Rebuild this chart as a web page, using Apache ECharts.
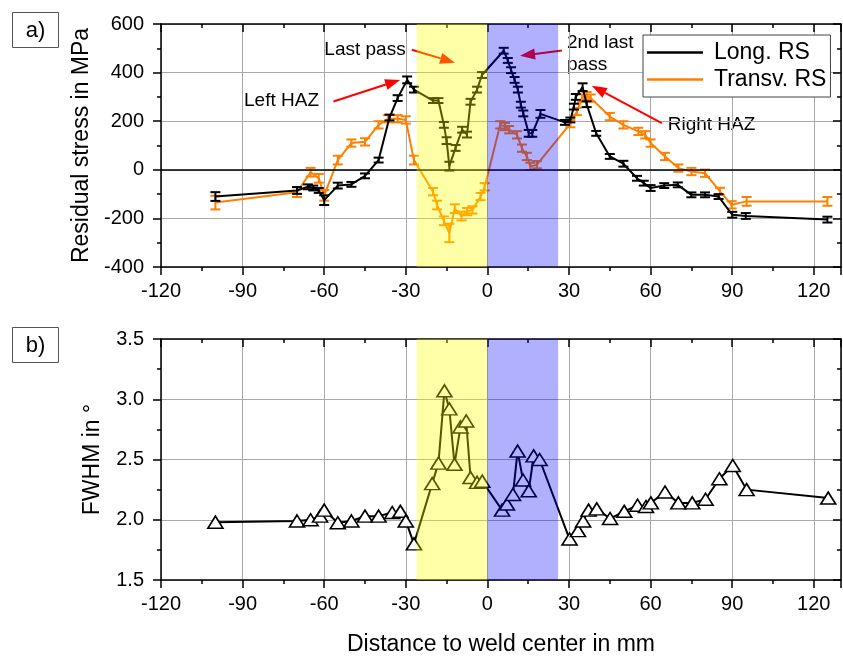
<!DOCTYPE html>
<html>
<head>
<meta charset="utf-8">
<script src="https://cdn.jsdelivr.net/npm/echarts@6/dist/echarts.min.js"></script>
<style>
html, body { margin: 0; padding: 0; background: #fff; }
#chart { width: 843px; height: 657px; }
</style>
</head>
<body>
<div id="chart"></div>
<script>
// Longitudinal residual stress: position (mm), stress (MPa), error half-width (MPa)
const longX = [-100, -70, -66, -64, -62, -60, -55, -50, -45, -40, -36, -33, -29.5, -27, -20, -18, -16, -15, -14, -11.7, -9.3, -7.5, -6.2, -3.8, -2,
  6, 7.5, 8.7, 10, 11.2, 12.3, 13.2, 15.2, 16.5, 19.5, 28.5, 30.5, 31.8, 32.5, 35, 36.5, 40, 45, 50, 55, 57.5, 60, 65, 70, 75, 80, 85, 90, 95, 125];
const longY = [-110, -85, -70, -75, -85, -125, -65, -60, -25, 40, 215, 295, 370, 330, 285, 285, 185, 120, 15, 90, 165, 145, 280, 330, 390,
  490, 450, 410, 370, 330, 268, 232, 150, 150, 230, 195, 205, 260, 300, 340, 270, 150, 55, 25, -35, -55, -75, -65, -62, -103, -103, -110, -185, -190, -205];
const longErr = [18, 14, 10, 10, 10, 20, 12, 10, 10, 10, 12, 12, 14, 12, 10, 10, 12, 14, 18, 12, 12, 12, 12, 12, 12,
  12, 10, 12, 12, 12, 12, 12, 14, 14, 16, 10, 10, 12, 12, 16, 12, 10, 10, 12, 10, 10, 12, 10, 10, 10, 10, 10, 12, 12, 12];

// Transverse residual stress
const transX = [-100, -70, -65, -62, -60, -55, -50, -45, -40, -36.5, -33, -30, -27, -20, -18.5, -16, -14, -12, -9.5, -7.5, -5.5, -2.5, -1,
  4.7, 6.5, 8, 10.9, 12.7, 14.5, 15.8, 18.2, 30.5, 32.9, 34.8, 36.5, 38, 45, 50, 55.5, 58, 60, 65.3, 70.2, 75, 80, 85.5, 89.8, 95.3, 125];
const transY = [-135, -92, -10, -35, -105, 40, 110, 115, 185, 210, 210, 205, 40, -90, -145, -210, -260, -160, -190, -172, -165, -110, -70,
  185, 178, 165, 144, 89, 55, 14, 21, 190, 240, 295, 305, 295, 219, 185, 158, 144, 110, 55, 7, -7, -14, -89, -144, -130, -130];
const transErr = [28, 20, 18, 18, 22, 18, 15, 15, 15, 15, 15, 15, 18, 15, 18, 18, 38, 18, 18, 15, 15, 15, 15,
  15, 15, 15, 15, 15, 15, 15, 15, 15, 15, 15, 15, 15, 15, 15, 15, 15, 15, 15, 15, 15, 15, 15, 15, 18, 18];

// Peak width (FWHM, degrees)
const fwhmX = [-100, -70, -65, -61.5, -60, -55, -50, -45, -40, -35, -32, -30, -27, -20.3, -18, -15.8, -14, -12.1, -9.9, -7.8, -6.2, -3.8, -1.9,
  5.4, 7.2, 9.4, 11.1, 13.1, 15.2, 17, 19.2, 30.2, 33.3, 35.2, 37.2, 40.2, 45.1, 50.3, 55.2, 58.3, 60.1, 65.3, 70.2, 75.3, 80.2, 85.3, 90.2, 95.3, 125.3];
const fwhmY = [1.98, 1.99, 2.00, 2.03, 2.08, 1.975, 1.99, 2.03, 2.03, 2.06, 2.07, 1.99, 1.80, 2.30, 2.47, 3.07, 2.92, 2.46, 2.77, 2.82, 2.35, 2.31, 2.32,
  2.08, 2.13, 2.21, 2.57, 2.33, 2.24, 2.53, 2.50, 1.84, 1.91, 1.99, 2.08, 2.09, 2.01, 2.07, 2.12, 2.11, 2.14, 2.23, 2.14, 2.14, 2.17, 2.34, 2.45, 2.25, 2.18];

// Weld passes: last pass (left) and 2nd last pass (right), in mm
const lastPassZone = [-26, 0];
const secondLastPassZone = [0, 26];

// Annotation arrows: [fromX, fromY, toX, toY] in data units of the stress plot
const arrowSegments = [
  [-56.6, 281, -32.1, 370],
  [-27.8, 494, -11.9, 441],
  [27.4, 491, 12.0, 469],
  [64.1, 192, 38.4, 346]
];

const FONT = 'Liberation Sans, Arial, sans-serif';
const toPairs = (xs, ys) => xs.map((x, i) => [x, ys[i]]);
const toTriples = (xs, ys, es) => xs.map((x, i) => [x, ys[i], es[i]]);

function errorBars(color) {
  return function (params, api) {
    const x = api.value(0), y = api.value(1), e = api.value(2);
    const a = api.coord([x, y + e]);
    const b = api.coord([x, y - e]);
    const w = 5;
    const st = { stroke: color, lineWidth: 2 };
    return {
      type: 'group',
      children: [
        { type: 'line', shape: { x1: a[0], y1: a[1], x2: b[0], y2: b[1] }, style: st },
        { type: 'line', shape: { x1: a[0] - w, y1: a[1], x2: a[0] + w, y2: a[1] }, style: st },
        { type: 'line', shape: { x1: b[0] - w, y1: b[1], x2: b[0] + w, y2: b[1] }, style: st }
      ]
    };
  };
}

function arrowItem(params, api) {
  const p1 = api.coord([api.value(0), api.value(1)]);
  const p2 = api.coord([api.value(2), api.value(3)]);
  const dx = p2[0] - p1[0], dy = p2[1] - p1[1];
  const len = Math.sqrt(dx * dx + dy * dy);
  const ux = dx / len, uy = dy / len;
  const hl = 15, hw = 5.5;
  const bx = p2[0] - ux * hl, by = p2[1] - uy * hl;
  return {
    type: 'group',
    children: [
      { type: 'line', shape: { x1: p1[0], y1: p1[1], x2: bx, y2: by }, style: { stroke: '#ff0000', lineWidth: 2 } },
      { type: 'polygon', shape: { points: [[p2[0], p2[1]], [bx - uy * hw, by + ux * hw], [bx + uy * hw, by - ux * hw]] }, style: { fill: '#ff0000' } }
    ]
  };
}

const axisCol = '#000';
const gridCol = '#a9a9a9';

function xAxisMain(gridIndex, extra) {
  return Object.assign({
    gridIndex, type: 'value', min: -120, max: 130, interval: 30, position: 'bottom',
    axisLine: { onZero: false, lineStyle: { color: axisCol, width: 1.5 } },
    axisTick: { length: 8, lineStyle: { color: axisCol, width: 1.5 } },
    minorTick: { show: true, splitNumber: 2, length: 4, lineStyle: { color: axisCol, width: 1.5 } },
    axisLabel: { margin: 14, fontSize: 20, color: '#000', fontFamily: FONT, showMaxLabel: false },
    splitLine: { show: true, lineStyle: { color: gridCol, width: 1 } }
  }, extra || {});
}
function xAxisMirror(gridIndex) {
  return {
    gridIndex, type: 'value', min: -120, max: 130, interval: 30, position: 'top',
    axisLine: { onZero: false, lineStyle: { color: axisCol, width: 1.5 } },
    axisTick: { inside: true, length: 8, lineStyle: { color: axisCol, width: 1.5 } },
    minorTick: { show: true, splitNumber: 2, length: 4, lineStyle: { color: axisCol, width: 1.5 } },
    axisLabel: { show: false }, splitLine: { show: false }
  };
}
function yAxisMain(gridIndex, min, max, interval, extra) {
  return Object.assign({
    gridIndex, type: 'value', min, max, interval, position: 'left',
    axisLine: { onZero: false, lineStyle: { color: axisCol, width: 1.5 } },
    axisTick: { length: 8, lineStyle: { color: axisCol, width: 1.5 } },
    minorTick: { show: true, splitNumber: 2, length: 4, lineStyle: { color: axisCol, width: 1.5 } },
    axisLabel: { margin: 17, fontSize: 20, color: '#000', fontFamily: FONT },
    splitLine: { show: true, lineStyle: { color: gridCol, width: 1 } },
    nameLocation: 'middle',
    nameTextStyle: { fontSize: 23, color: '#000', fontFamily: FONT }
  }, extra || {});
}
function yAxisMirror(gridIndex, min, max, interval) {
  return {
    gridIndex, type: 'value', min, max, interval, position: 'right',
    axisLine: { onZero: false, lineStyle: { color: axisCol, width: 1.5 } },
    axisTick: { inside: true, length: 8, lineStyle: { color: axisCol, width: 1.5 } },
    minorTick: { show: true, splitNumber: 2, length: 4, lineStyle: { color: axisCol, width: 1.5 } },
    axisLabel: { show: false }, splitLine: { show: false }
  };
}

const bandArea = {
  silent: true,
  z: 10,
  label: { show: false },
  data: [
    [{ xAxis: lastPassZone[0], itemStyle: { color: 'rgba(255,255,0,0.34)' } }, { xAxis: lastPassZone[1] }],
    [{ xAxis: secondLastPassZone[0], itemStyle: { color: 'rgba(0,0,255,0.31)' } }, { xAxis: secondLastPassZone[1] }]
  ]
};

const chart = echarts.init(document.getElementById('chart'), null, { renderer: 'canvas' });

chart.setOption({
  backgroundColor: '#fff',
  animation: false,
  textStyle: { fontFamily: FONT },
  grid: [
    { left: 161, width: 680, top: 24, height: 243 },
    { left: 161, width: 680, top: 339, height: 244 }
  ],
  xAxis: [
    xAxisMain(0),
    xAxisMirror(0),
    xAxisMain(1, {
      name: 'Distance to weld center in mm', nameLocation: 'middle', nameGap: 53,
      nameTextStyle: { fontSize: 23, color: '#000', fontFamily: FONT }
    }),
    xAxisMirror(1)
  ],
  yAxis: [
    yAxisMain(0, -400, 600, 200, { name: 'Residual stress in MPa', nameGap: 68 }),
    yAxisMirror(0, -400, 600, 200),
    yAxisMain(1, 1.5, 3.5, 0.5, {
      name: 'FWHM in °', nameGap: 57,
      axisLabel: { margin: 17, fontSize: 20, color: '#000', fontFamily: FONT, formatter: v => v.toFixed(1) }
    }),
    yAxisMirror(1, 1.5, 3.5, 0.5)
  ],
  legend: {
    left: 643, top: 35, orient: 'vertical',
    data: ['Long. RS', 'Transv. RS'],
    icon: 'rect',
    itemWidth: 56, itemHeight: 2.5, itemGap: 0,
    padding: [4, 4, 4, 4],
    borderColor: '#444', borderWidth: 1, borderRadius: 0,
    backgroundColor: '#fff',
    selectedMode: false,
    textStyle: { fontSize: 23, color: '#000', fontFamily: FONT, lineHeight: 27, padding: [0, 0, 0, 6] }
  },
  series: [
    {
      name: 'Long. RS', type: 'line', xAxisIndex: 0, yAxisIndex: 0,
      data: toPairs(longX, longY), symbol: 'none', z: 3,
      lineStyle: { color: '#000', width: 2 }, itemStyle: { color: '#000' },
      markLine: {
        silent: true, symbol: 'none', label: { show: false },
        lineStyle: { color: '#000', width: 1.5, type: 'solid' },
        data: [{ yAxis: 0 }]
      },
      markArea: bandArea
    },
    {
      name: 'Transv. RS', type: 'line', xAxisIndex: 0, yAxisIndex: 0,
      data: toPairs(transX, transY), symbol: 'none', z: 2,
      lineStyle: { color: '#ff8000', width: 2 }, itemStyle: { color: '#ff8000' }
    },
    {
      name: 'Long. RS error', type: 'custom', xAxisIndex: 0, yAxisIndex: 0, z: 3,
      data: toTriples(longX, longY, longErr), renderItem: errorBars('#000'),
      encode: { x: 0, y: 1 }, silent: true
    },
    {
      name: 'Transv. RS error', type: 'custom', xAxisIndex: 0, yAxisIndex: 0, z: 2,
      data: toTriples(transX, transY, transErr), renderItem: errorBars('#ff8000'),
      encode: { x: 0, y: 1 }, silent: true
    },
    {
      name: 'arrows', type: 'custom', xAxisIndex: 0, yAxisIndex: 0, z: 4,
      data: arrowSegments, renderItem: arrowItem, encode: { x: [0, 2], y: [1, 3] }, silent: true, clip: false
    },
    {
      name: 'FWHM', type: 'line', xAxisIndex: 2, yAxisIndex: 2,
      data: toPairs(fwhmX, fwhmY), symbol: 'triangle', symbolSize: [15, 12], z: 3,
      lineStyle: { color: '#000', width: 2 },
      itemStyle: { color: '#fff', borderColor: '#000', borderWidth: 1.6 },
      markArea: bandArea
    }
  ],
  graphic: [
    { type: 'rect', shape: { x: 12.5, y: 12.5, width: 46, height: 35 }, style: { fill: '#fff', stroke: '#555', lineWidth: 1 } },
    { type: 'text', x: 35.5, y: 30.5, style: { text: 'a)', font: '22px ' + FONT, fill: '#000', align: 'center', verticalAlign: 'middle' } },
    { type: 'rect', shape: { x: 12.5, y: 327.5, width: 46, height: 35 }, style: { fill: '#fff', stroke: '#555', lineWidth: 1 } },
    { type: 'text', x: 35.5, y: 345.5, style: { text: 'b)', font: '22px ' + FONT, fill: '#000', align: 'center', verticalAlign: 'middle' } },
    { type: 'text', x: 281.5, y: 100.5, style: { text: 'Left HAZ', font: '19px ' + FONT, fill: '#000', align: 'center', verticalAlign: 'middle' } },
    { type: 'text', x: 365, y: 50, style: { text: 'Last pass', font: '19px ' + FONT, fill: '#000', align: 'center', verticalAlign: 'middle' } },
    { type: 'text', x: 567, y: 42.5, style: { text: '2nd last', font: '19px ' + FONT, fill: '#000', align: 'left', verticalAlign: 'middle' } },
    { type: 'text', x: 567, y: 65, style: { text: 'pass', font: '19px ' + FONT, fill: '#000', align: 'left', verticalAlign: 'middle' } },
    { type: 'text', x: 711.5, y: 124.5, style: { text: 'Right HAZ', font: '19px ' + FONT, fill: '#000', align: 'center', verticalAlign: 'middle' } }
  ]
});
</script>
</body>
</html>
